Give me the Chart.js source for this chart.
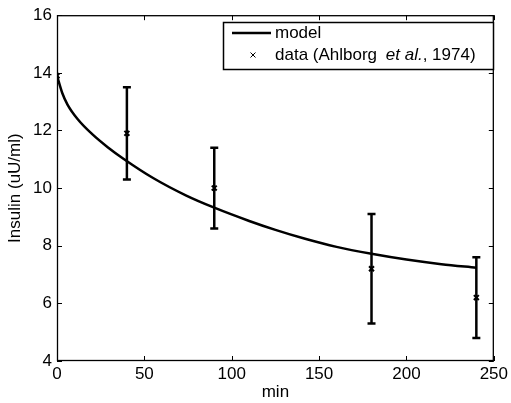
<!DOCTYPE html>
<html>
<head>
<meta charset="utf-8">
<script src="https://cdn.jsdelivr.net/npm/chart.js@4/dist/chart.umd.min.js"></script>
<style>
  html, body { margin: 0; padding: 0; background: #fff; }
  #wrap { width: 511px; height: 403px; position: relative; }
</style>
</head>
<body>
<div id="wrap"><canvas id="insulinChart"></canvas></div>
<script>
// model curve (min, uU/ml)
const modelT = [0, 3, 6, 12, 20, 29, 38, 55, 74, 90, 110, 125, 142, 160, 180, 200, 220, 240];
const modelV = [13.9, 13.3, 12.9, 12.38, 11.88, 11.42, 11.02, 10.35, 9.74, 9.32, 8.86, 8.55, 8.24, 7.96, 7.72, 7.52, 7.36, 7.24];

// data (Ahlborg et al., 1974)
const dataT = [0, 40, 90, 180, 240];
const dataV = [13.9, 11.9, 10.0, 7.2, 6.2];
const errLow = [13.9, 10.3, 8.6, 5.3, 4.8];
const errHigh = [13.9, 13.5, 11.4, 9.1, 7.6];

const xTicks = [0, 50, 100, 150, 200, 250];
const yTicks = [4, 6, 8, 10, 12, 14, 16];

const FONT = 'Liberation Sans, Arial, Helvetica, sans-serif';

// error bars, drawn before the markers
const errorBars = {
    id: 'errorBars',
    beforeDatasetsDraw(chart) {
        const ctx = chart.ctx;
        const x = chart.scales.x, y = chart.scales.y;
        ctx.save();
        ctx.strokeStyle = '#000';
        ctx.lineWidth = 2.5;
        dataT.forEach((t, i) => {
            if (errHigh[i] === errLow[i]) return;
            const px = x.getPixelForValue(t);
            const yl = y.getPixelForValue(errLow[i]);
            const yh = y.getPixelForValue(errHigh[i]);
            ctx.beginPath();
            ctx.moveTo(px, yl); ctx.lineTo(px, yh);
            ctx.moveTo(px - 4, yl); ctx.lineTo(px + 4, yl);
            ctx.moveTo(px - 4, yh); ctx.lineTo(px + 4, yh);
            ctx.stroke();
        });
        ctx.restore();
    }
};

// matlab style box, inward ticks and legend
const boxAndLegend = {
    id: 'boxAndLegend',
    afterDraw(chart) {
        const ctx = chart.ctx;
        const a = chart.chartArea;
        const x = chart.scales.x, y = chart.scales.y;
        ctx.save();
        ctx.strokeStyle = '#000';
        ctx.lineWidth = 1.3;
        ctx.strokeRect(a.left + 0.5, a.top + 0.5, a.right - a.left - 1, a.bottom - a.top - 1);
        ctx.lineWidth = 1;
        ctx.beginPath();
        xTicks.forEach(v => {
            const px = Math.round(x.getPixelForValue(v)) + 0.5;
            ctx.moveTo(px, a.bottom); ctx.lineTo(px, a.bottom - 5);
            ctx.moveTo(px, a.top); ctx.lineTo(px, a.top + 5);
        });
        yTicks.forEach(v => {
            const py = Math.round(y.getPixelForValue(v)) + 0.5;
            ctx.moveTo(a.left, py); ctx.lineTo(a.left + 5, py);
            ctx.moveTo(a.right, py); ctx.lineTo(a.right - 5, py);
        });
        ctx.stroke();

        // legend
        const lx = 223, ly = 22, lw = 270, lh = 47;
        ctx.fillStyle = '#fff';
        ctx.fillRect(lx, ly, lw, lh);
        ctx.lineWidth = 1.5;
        ctx.strokeRect(lx + 0.5, ly + 0.5, lw, lh);

        ctx.lineWidth = 2.5;
        ctx.beginPath();
        ctx.moveTo(232, 33); ctx.lineTo(271, 33);
        ctx.stroke();

        ctx.lineWidth = 1;
        ctx.beginPath();
        ctx.moveTo(250.5, 52.5); ctx.lineTo(255.5, 57.5);
        ctx.moveTo(255.5, 52.5); ctx.lineTo(250.5, 57.5);
        ctx.stroke();

        ctx.fillStyle = '#000';
        ctx.textBaseline = 'middle';
        ctx.textAlign = 'left';
        ctx.font = '17px ' + FONT;
        ctx.fillText('model', 275, 33);
        let tx = 275;
        const part1 = 'data (Ahlborg ';
        ctx.fillText(part1, tx, 55);
        tx += ctx.measureText(part1).width + 4;
        ctx.font = 'italic 17px ' + FONT;
        ctx.fillText('et al.', tx, 55);
        tx += ctx.measureText('et al.').width;
        ctx.font = '17px ' + FONT;
        ctx.fillText(', 1974)', tx, 55);
        ctx.restore();
    }
};

const tickFont = { family: FONT, size: 17 };

new Chart(document.getElementById('insulinChart'), {
    type: 'scatter',
    data: {
        datasets: [{
            label: 'model',
            data: modelT.map((t, i) => ({ x: t, y: modelV[i] })),
            showLine: true,
            borderColor: '#000',
            borderWidth: 2.5,
            pointRadius: 0,
            cubicInterpolationMode: 'monotone',
            fill: false
        }, {
            label: 'data (Ahlborg et al., 1974)',
            data: dataT.map((t, i) => ({ x: t, y: dataV[i] })),
            showLine: false,
            pointStyle: 'crossRot',
            pointRadius: 3.5,
            borderColor: '#000',
            borderWidth: 2
        }]
    },
    options: {
        responsive: true,
        maintainAspectRatio: false,
        animation: false,
        layout: { padding: { left: 0, right: 15, top: 15, bottom: 0 } },
        plugins: {
            legend: { display: false },
            tooltip: { enabled: false }
        },
        scales: {
            x: {
                type: 'linear',
                min: 0, max: 250,
                afterFit: s => { s.height = 42; },
                afterBuildTicks: s => { s.ticks = xTicks.map(v => ({ value: v })); },
                grid: { display: false, drawTicks: false },
                border: { display: false },
                ticks: { color: '#000', font: tickFont, padding: 3, maxRotation: 0 },
                title: { display: true, text: 'min', color: '#000', font: tickFont, padding: { top: -2, bottom: 0 } }
            },
            y: {
                type: 'linear',
                min: 4, max: 16,
                afterFit: s => { s.width = 57; },
                afterBuildTicks: s => { s.ticks = yTicks.map(v => ({ value: v })); },
                grid: { display: false, drawTicks: false },
                border: { display: false },
                ticks: { color: '#000', font: tickFont, padding: 5 },
                title: { display: true, text: 'Insulin (uU/ml)', color: '#000', font: tickFont, padding: { top: 5, bottom: 0 } }
            }
        }
    },
    plugins: [errorBars, boxAndLegend]
});
</script>
</body>
</html>
